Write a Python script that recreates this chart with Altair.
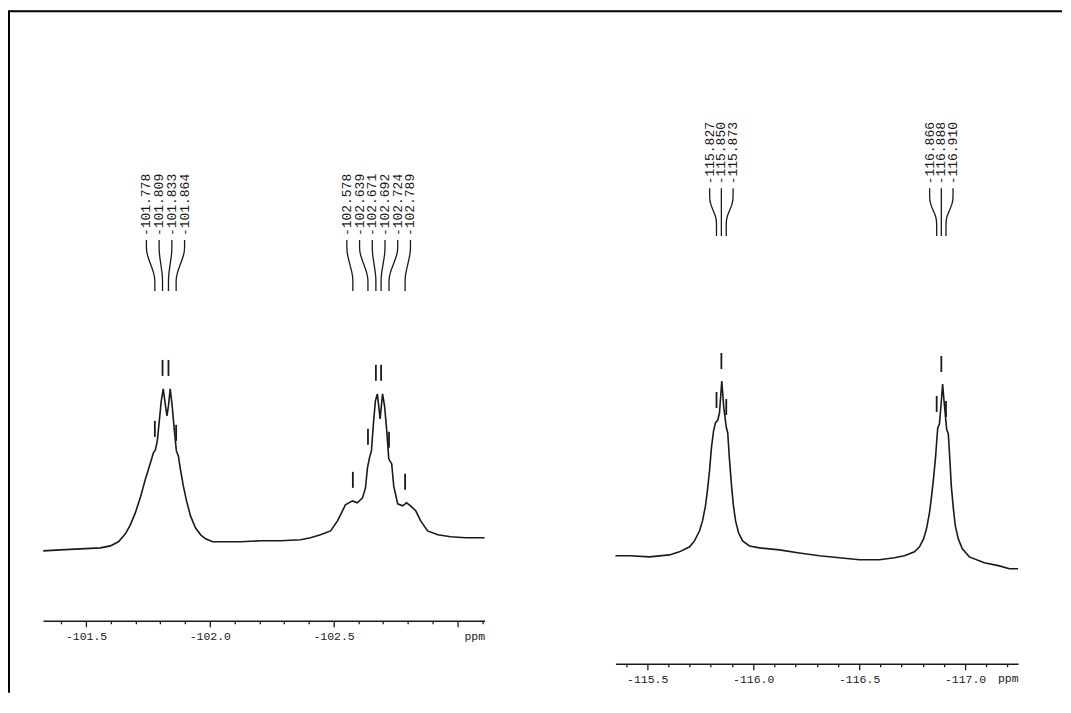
import altair as alt
import pandas as pd

# ---------------- data ----------------
left_ppm = [-101.327, -101.396, -101.477, -101.558, -101.598, -101.631, -101.659, -101.679, -101.699, -101.720,
            -101.740, -101.760, -101.772, -101.780, -101.788, -101.796, -101.804, -101.812, -101.821, -101.827,
            -101.833, -101.840, -101.848, -101.857, -101.865, -101.873, -101.881, -101.893, -101.906, -101.922,
            -101.942, -101.963, -101.983, -102.011, -102.063, -102.124, -102.205, -102.286, -102.367, -102.407,
            -102.447, -102.488, -102.516, -102.548, -102.576, -102.596, -102.617, -102.629, -102.637, -102.645,
            -102.653, -102.661, -102.669, -102.677, -102.688, -102.698, -102.706, -102.714, -102.723, -102.735,
            -102.743, -102.759, -102.779, -102.795, -102.811, -102.832, -102.852, -102.880, -102.921, -102.973,
            -103.034, -103.110]
left_int = [1.2, 1.8, 2.4, 3.0, 4.2, 6.7, 11.5, 17.0, 24.2, 33.9,
            44.8, 54.5, 60.6, 62.4, 67.9, 80.0, 92.1, 99.4, 89.1, 83.0,
            89.1, 99.4, 89.1, 73.9, 61.8, 58.8, 50.9, 40.6, 31.5, 22.4,
            15.2, 10.9, 8.5, 6.7, 6.7, 6.7, 7.3, 7.3, 7.9, 9.1,
            10.9, 13.3, 19.4, 29.1, 31.5, 30.3, 33.3, 39.4, 51.5, 57.6,
            61.8, 78.2, 92.1, 96.4, 81.2, 96.4, 89.1, 75.8, 57.0, 53.9,
            40.6, 29.7, 28.5, 30.3, 28.5, 25.5, 19.4, 13.3, 10.9, 9.7,
            9.1, 9.1]

right_ppm = [-115.350, -115.417, -115.511, -115.605, -115.652, -115.700, -115.723, -115.747, -115.761, -115.775,
             -115.784, -115.794, -115.803, -115.813, -115.822, -115.833, -115.841, -115.852, -115.861, -115.873,
             -115.880, -115.888, -115.898, -115.907, -115.917, -115.931, -115.950, -115.983, -116.030, -116.124,
             -116.218, -116.313, -116.407, -116.501, -116.596, -116.667, -116.714, -116.761, -116.785, -116.804,
             -116.818, -116.832, -116.841, -116.851, -116.860, -116.871, -116.879, -116.887, -116.894, -116.902,
             -116.913, -116.921, -116.928, -116.935, -116.945, -116.954, -116.968, -116.987, -117.020, -117.091,
             -117.162, -117.209, -117.250]
right_int = [2.8, 2.8, 2.2, 3.3, 5.0, 7.8, 11.1, 16.7, 22.2, 30.6,
             38.9, 50.0, 62.8, 72.2, 76.7, 78.3, 82.2, 100.0, 85.6, 74.4,
             71.1, 56.7, 41.7, 30.6, 22.2, 15.6, 11.1, 8.3, 7.2, 6.1,
             4.4, 2.8, 1.7, 0.6, 0.6, 1.7, 2.8, 5.0, 7.8, 12.2,
             17.8, 26.7, 35.0, 45.6, 56.7, 73.9, 76.1, 87.2, 98.3, 87.2,
             73.3, 70.6, 56.7, 41.7, 28.9, 19.4, 12.2, 6.7, 2.2, -1.1,
             -2.8, -4.4, -4.4]

left_peaks = [-101.778, -101.809, -101.833, -101.864,
              -102.578, -102.639, -102.671, -102.692, -102.724, -102.789]
left_peak_int = [62.4, 99.4, 99.4, 60.0, 31.5, 57.6, 96.4, 96.4, 55.8, 30.3]
left_groups = [1, 1, 1, 1, 2, 2, 2, 2, 2, 2]

right_peaks = [-115.827, -115.850, -115.873, -116.866, -116.888, -116.910]
right_peak_int = [78.3, 100.0, 74.4, 76.1, 98.3, 73.3]
right_groups = [1, 1, 1, 2, 2, 2]

left_tick_values = [-101.4, -101.5, -101.6, -101.7, -101.8, -101.9, -102.0, -102.1, -102.2, -102.3,
                    -102.4, -102.5, -102.6, -102.7, -102.8, -102.9, -103.0, -103.1]
right_tick_values = [-115.4, -115.5, -115.6, -115.7, -115.8, -115.9, -116.0, -116.1, -116.2, -116.3,
                     -116.4, -116.5, -116.6, -116.7, -116.8, -116.9, -117.0, -117.1, -117.2]

MONO = "Liberation Mono"
INK = "#1a1a1a"


def peak_tables(peaks, heights, groups, spacing, tick_off, tick_len, label_y, conn_y):
    rows, conn = [], []
    for g in sorted(set(groups)):
        idx = [i for i, gg in enumerate(groups) if gg == g]
        center = sum(peaks[i] for i in idx) / len(idx)
        n = len(idx)
        for k, i in enumerate(idx):
            lx = center - (k - (n - 1) / 2) * spacing
            lab = f"{peaks[i]:.3f}"
            rows.append({"ppm": peaks[i], "t0": heights[i] + tick_off,
                         "t1": heights[i] + tick_off + tick_len,
                         "lx": lx, "ly": label_y, "label": lab})
            xs = [lx, lx, lx, peaks[i], peaks[i], peaks[i]]
            for s, (cx, cy) in enumerate(zip(xs, conn_y)):
                conn.append({"cx": cx, "cy": cy, "step": s, "label": lab})
    return pd.DataFrame(rows), pd.DataFrame(conn)


def panel(ppm, inten, peaks, heights, groups, xdom, ydom, width, height, ticks,
          last_label, spacing, tick_off, tick_len, label_y, conn_y, title_y, frame=False):
    spec = pd.DataFrame({"ppm": ppm, "intensity": inten})
    pk, cn = peak_tables(peaks, heights, groups, spacing, tick_off, tick_len, label_y, conn_y)

    major = "abs(datum.value*2 - round(datum.value*2)) < 0.001"
    axis = alt.Axis(
        values=ticks, orient="bottom",
        labelExpr=f"({major}) && datum.value > {last_label} ? '-' + format(-datum.value, '.1f') : ''",
        tickSize={"condition": {"test": major, "value": 6}, "value": 3},
        tickColor=INK, tickWidth=1.3, domainColor=INK, domainWidth=1.5,
        labelFont=MONO, labelFontSize=11.5, labelColor=INK, labelPadding=4,
        labelOverlap=False, labelFlush=False, labelBound=False, grid=False,
        title="ppm", titleFont=MONO, titleFontSize=11.5, titleFontWeight="normal",
        titleColor=INK, titleAnchor="end", titleAlign="right", titleBaseline="middle",
        titleX=width, titleY=title_y,
    )
    xs = alt.Scale(domain=xdom, nice=False, zero=False)
    ys = alt.Scale(domain=ydom, nice=False, zero=False)

    def X(f):
        return alt.X(f, type="quantitative", scale=xs, axis=axis)

    def Y(f):
        return alt.Y(f, type="quantitative", scale=ys, axis=None)

    line = alt.Chart(spec).mark_line(color=INK, strokeWidth=1.6).encode(
        x=X("ppm"), y=Y("intensity"), order=alt.Order("ppm:Q", sort="descending"))
    tk = alt.Chart(pk).mark_rule(color=INK, strokeWidth=1.8).encode(
        x=X("ppm"), y=Y("t0"), y2="t1:Q")
    txt = alt.Chart(pk).mark_text(angle=270, align="left", baseline="middle", font=MONO,
                                  fontSize=13, color=INK).encode(
        x=X("lx"), y=Y("ly"), text="label:N")
    con = alt.Chart(cn).mark_line(color=INK, strokeWidth=1.3, interpolate="basis").encode(
        x=X("cx"), y=Y("cy"), detail="label:N", order="step:Q")
    layers = [line, tk, txt, con]
    if frame:
        one = pd.DataFrame({"a": [0]})
        top = alt.Chart(one).mark_rule(color="black", strokeWidth=2, clip=False).encode(
            x=alt.value(-34), x2=alt.value(1020), y=alt.value(-90))
        side = alt.Chart(one).mark_rule(color="black", strokeWidth=2, clip=False).encode(
            x=alt.value(-34), y=alt.value(-91), y2=alt.value(592))
        layers += [top, side]
    return alt.layer(*layers).properties(width=width, height=height)


left = panel(left_ppm, left_int, left_peaks, left_peak_int, left_groups,
             [-101.326, -103.11], [-41.2, 273.9], 442, 520, left_tick_values, -102.95,
             0.0514, 7.9, 9.7, 192.1, [189.7, 185.0, 181.5, 168.5, 165.0, 158.8], 16, frame=True)
right = panel(right_ppm, right_int, right_peaks, right_peak_int, right_groups,
              [-115.35, -117.25], [-57.2, 255.6], 403, 563, right_tick_values, -117.05,
              0.0552, 6.7, 8.9, 209.4, [207.2, 202.5, 199.0, 191.0, 187.5, 180.6], 15)

chart = alt.hconcat(left, right, spacing=131, bounds="flush",
                    padding={"left": 0, "top": 1, "right": 0, "bottom": 0},
                    background="white"
                    ).configure_view(strokeOpacity=0)

chart.save("out.html", embed_options={"renderer": "svg", "actions": False})
